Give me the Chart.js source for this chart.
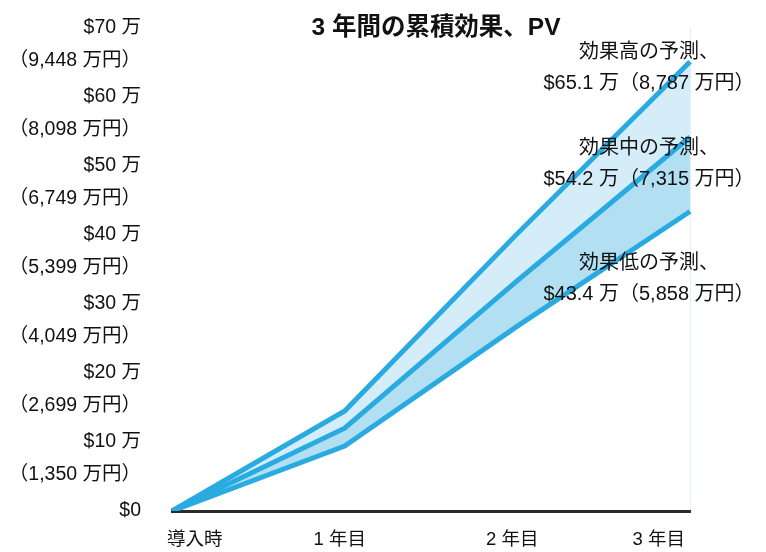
<!DOCTYPE html>
<html><head><meta charset="utf-8">
<script src="https://cdn.jsdelivr.net/npm/chart.js@4.4.1/dist/chart.umd.min.js"></script>
<style>html,body{margin:0;padding:0;background:#fff;}</style>
</head><body>
<canvas id="c" width="766" height="552"></canvas>
<script>
const chartTitle = '3 年間の累積効果、PV';
const categories = ['導入時', '1 年目', '2 年目', '3 年目'];
const highValues = [0, 14.5, 40.2, 65.1];
const midValues = [0, 12.0, 33.4, 54.2];
const lowValues = [0, 9.4, 26.8, 43.4];
const yTickValues = [0, 10, 20, 30, 40, 50, 60, 70];
const yTickUSD = ['$0', '$10 万', '$20 万', '$30 万', '$40 万', '$50 万', '$60 万', '$70 万'];
const yTickJPY = ['', '（1,350 万円）', '（2,699 万円）', '（4,049 万円）', '（5,399 万円）', '（6,749 万円）', '（8,098 万円）', '（9,448 万円）'];
const seriesNames = ['効果高の予測、', '効果中の予測、', '効果低の予測、'];
const seriesTotals = ['$65.1 万（8,787 万円）', '$54.2 万（7,315 万円）', '$43.4 万（5,858 万円）'];
const labelAnchorValues = [66.5, 52.6, 35.9];

const FAMILY = '"Liberation Sans", "Noto Sans CJK JP", sans-serif';
Chart.defaults.font.family = FAMILY;
Chart.defaults.color = '#111';

const LINE = '#29abe2';

const textPlugin = {
  id: 'texts',
  afterDraw(chart) {
    const ctx = chart.ctx;
    const a = chart.chartArea;
    const xs = chart.scales.x, ys = chart.scales.y;
    ctx.save();
    ctx.fillStyle = '#111';
    ctx.textAlign = 'center';
    ctx.textBaseline = 'middle';
    ctx.font = 'bold 24.5px ' + FAMILY;
    ctx.fillText(chartTitle, (a.left + a.right) / 2 + 5, 28);
    ctx.font = '20px ' + FAMILY;
    const cx = xs.getPixelForValue(categories.length - 1) - 41;
    for (let i = 0; i < seriesNames.length; i++) {
      const y = ys.getPixelForValue(labelAnchorValues[i]);
      ctx.fillText(seriesNames[i], cx, y);
      ctx.fillText(seriesTotals[i], cx, y + 31);
    }
    ctx.restore();
  }
};

function noPad(s) { s.paddingTop = 0; s.paddingBottom = 0; s.paddingLeft = 0; s.paddingRight = 0; }

new Chart(document.getElementById('c'), {
  type: 'line',
  data: {
    labels: categories,
    datasets: [
      { data: highValues, borderColor: LINE, backgroundColor: '#d5edf9', fill: '+1' },
      { data: midValues, borderColor: LINE, backgroundColor: '#b2e0f2', fill: '+1' },
      { data: lowValues, borderColor: LINE, backgroundColor: 'rgba(0,0,0,0)', fill: false }
    ]
  },
  options: {
    responsive: false,
    animation: false,
    devicePixelRatio: 1,
    layout: { padding: { top: 28, right: 76, bottom: 0, left: 0 } },
    elements: {
      line: { borderWidth: 5, tension: 0, borderCapStyle: 'butt', borderJoinStyle: 'miter' },
      point: { radius: 0, hoverRadius: 0 }
    },
    plugins: {
      legend: { display: false },
      tooltip: { enabled: false },
      title: { display: false },
      filler: { drawTime: 'beforeDatasetsDraw' }
    },
    scales: {
      x: {
        grid: {
          display: true,
          drawTicks: false,
          color: (c) => c.index === categories.length - 1 ? '#e3f1f6' : 'rgba(0,0,0,0)',
          lineWidth: 1
        },
        border: { display: true, color: '#2a2a2a', width: 3 },
        ticks: { align: 'inner', labelOffset: -5, padding: 18, font: { size: 18.5 }, color: '#111', maxRotation: 0, autoSkip: false },
        afterFit: (s) => { s.height = 41; noPad(s); }
      },
      y: {
        min: 0, max: 70,
        grid: { display: false, drawTicks: false },
        border: { display: false },
        ticks: {
          stepSize: 10,
          autoSkip: false,
          padding: 31,
          labelOffset: 16.5,
          color: '#111',
          font: { size: 19.5, lineHeight: 33 / 19.5 },
          callback: (v) => {
            const i = yTickValues.indexOf(v);
            return i < 0 ? '' : [yTickUSD[i], yTickJPY[i]];
          }
        },
        afterFit: (s) => { s.width = 172; noPad(s); }
      }
    }
  },
  plugins: [textPlugin]
});
</script>
</body></html>
